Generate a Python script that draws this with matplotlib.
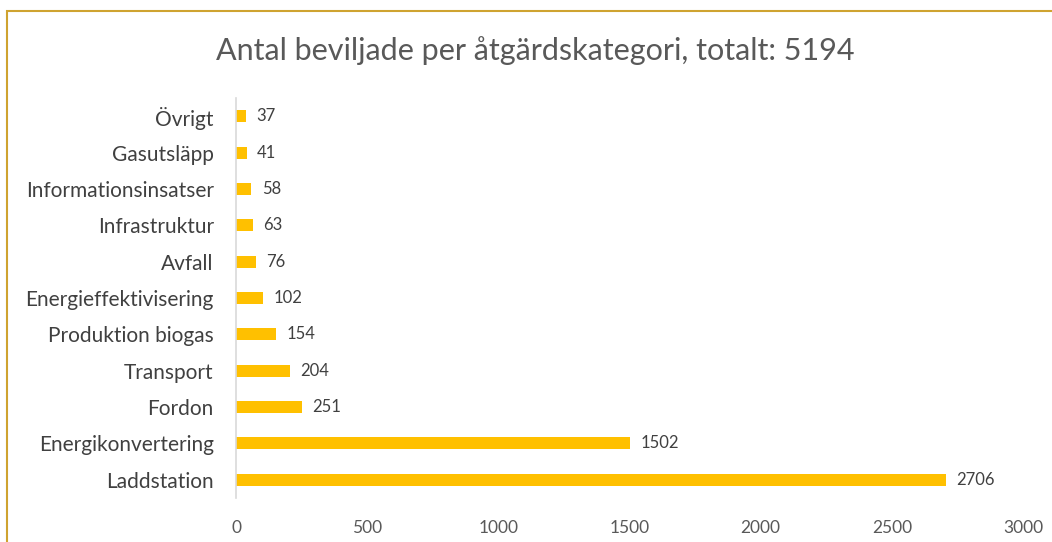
import matplotlib.pyplot as plt
from matplotlib.patches import Rectangle

categories = ["Laddstation", "Energikonvertering", "Fordon", "Transport",
              "Produktion biogas", "Energieffektivisering", "Avfall",
              "Infrastruktur", "Informationsinsatser", "Gasutsläpp", "Övrigt"]
counts = [2706, 1502, 251, 204, 154, 102, 76, 63, 58, 41, 37]
xticks = [0, 500, 1000, 1500, 2000, 2500, 3000]

plt.rcParams['font.family'] = ['Lato', 'DejaVu Sans']

fig = plt.figure(figsize=(10.52, 5.42), dpi=100)
ax = fig.add_axes([236 / 1052, 1 - 498 / 542, (1023 - 236) / 1052, 400 / 542])

y = range(len(categories))
ax.barh(y, counts, height=0.33, color="#FFC000")
for i, v in enumerate(counts):
    ax.text(v + 40, i, str(v), va="center", ha="left", fontsize=12, color="#404040")

ax.set_xlim(0, 3000)
ax.set_ylim(-0.5, len(categories) - 0.5)
ax.set_yticks(list(y))
ax.set_yticklabels(categories, fontsize=15, color="#404040")
ax.tick_params(axis="both", length=0)
ax.tick_params(axis="y", pad=16)
ax.tick_params(axis="x", pad=16)
ax.set_xticks(xticks)
ax.set_xticklabels([str(t) for t in xticks], fontsize=12.5, color="#595959")
for s in ["top", "right", "bottom"]:
    ax.spines[s].set_visible(False)
ax.spines["left"].set_color("#D9D9D9")
ax.spines["left"].set_linewidth(1.2)

fig.text(0.509, 1 - 51 / 542, "Antal beviljade per åtgärdskategori, totalt: 5194",
         ha="center", va="center", fontsize=22, color="#595959")

# gold frame, cut off at right and bottom edges
fig.patches.append(Rectangle((7 / 1052, -0.1), 1.2, (542 - 11) / 542 + 0.1,
                             transform=fig.transFigure, fill=False,
                             edgecolor="#CFA330", linewidth=1.5))

fig.savefig("out.png", dpi=100)
